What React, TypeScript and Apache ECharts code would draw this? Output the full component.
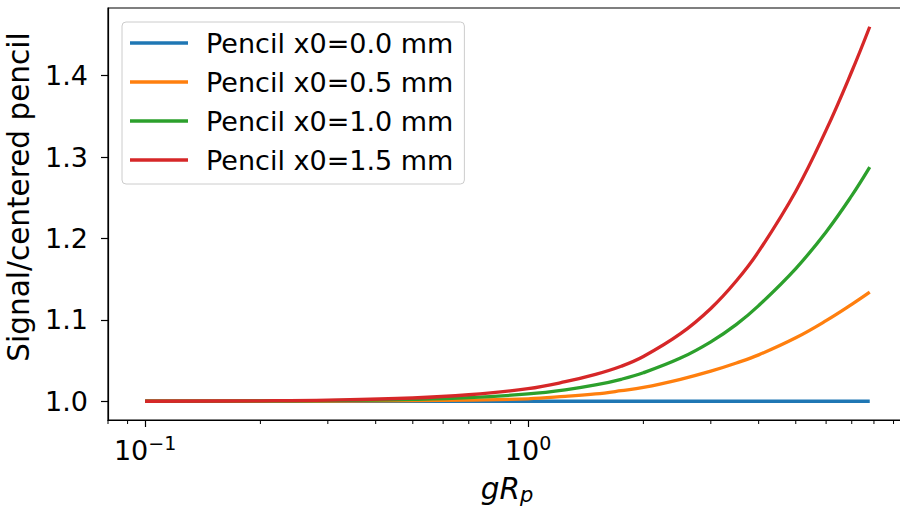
import React, { useEffect, useRef } from "react";
import * as echarts from "echarts";

// gR_p sample positions (log axis)
const xValues = [0.1, 0.2, 0.3, 0.5, 0.7, 1.0, 1.25, 1.5, 1.75, 2.0, 2.5, 3.0, 3.5, 4.0, 5.0, 6.0, 7.0, 7.8];

// Signal / centered pencil for each pencil offset
const pencil00 = [1.0, 1.0, 1.0, 1.0, 1.0, 1.0, 1.0, 1.0, 1.0, 1.0, 1.0, 1.0, 1.0, 1.0, 1.0, 1.0, 1.0, 1.0];
const pencil05 = [1.0, 1.0001, 1.0003, 1.0008, 1.0015, 1.003, 1.006, 1.009, 1.013, 1.017, 1.027, 1.037, 1.047, 1.057, 1.078, 1.099, 1.119, 1.134];
const pencil10 = [1.0, 1.0004, 1.0008, 1.0023, 1.0044, 1.009, 1.014, 1.02, 1.027, 1.035, 1.053, 1.073, 1.0945, 1.1175, 1.163, 1.208, 1.2525, 1.2875];
const pencil15 = [1.0, 1.0006, 1.0014, 1.004, 1.008, 1.0155, 1.024, 1.033, 1.043, 1.055, 1.083, 1.114, 1.148, 1.184, 1.258, 1.333, 1.405, 1.46];

const seriesNames = ["Pencil x0=0.0 mm", "Pencil x0=0.5 mm", "Pencil x0=1.0 mm", "Pencil x0=1.5 mm"];
const seriesColors = ["#1f77b4", "#ff7f0e", "#2ca02c", "#d62728"];

const yTicks = [1.0, 1.1, 1.2, 1.3, 1.4];
const xMinorTicks = [0.08, 0.09, 0.2, 0.3, 0.4, 0.5, 0.6, 0.7, 0.8, 0.9, 2, 3, 4, 5, 6, 7, 8, 9];

const X_MIN = 0.08;
const X_MAX = 9.7;
const Y_MIN = 0.977;
const Y_MAX = 1.483;

const FONT = "DejaVu Sans";
const FS = 27;
const FS_NAME = 29.5;

export default function App() {
  const ref = useRef<HTMLDivElement>(null);

  useEffect(() => {
    const chart = echarts.init(ref.current!, null, { renderer: "svg" });
    const allData = [pencil00, pencil05, pencil10, pencil15];

    chart.setOption({
      animation: false,
      grid: {
        left: 108,
        right: 0,
        top: 8,
        bottom: 88,
        outerBoundsMode: "none",
        containLabel: false,
        show: true,
        borderColor: "#000",
        borderWidth: 1.2,
        backgroundColor: "transparent",
      },
      legend: {
        show: true,
        orient: "vertical",
        left: 122,
        top: 22,
        padding: [7, 11, 10, 8],
        icon: "rect",
        itemWidth: 58,
        itemHeight: 3.3,
        itemGap: 11,
        borderColor: "#cccccc",
        borderWidth: 1,
        borderRadius: 4,
        backgroundColor: "rgba(255,255,255,0.8)",
        textStyle: {
          fontFamily: FONT,
          fontSize: FS,
          color: "#000",
          lineHeight: 28,
          padding: [0, 0, 0, 13],
        },
        data: seriesNames,
      },
      xAxis: {
        type: "log",
        logBase: 10,
        min: X_MIN,
        max: X_MAX,
        axisLine: { show: true, onZero: false, lineStyle: { color: "#000", width: 1.2 } },
        axisTick: { show: true, length: 7, lineStyle: { color: "#000", width: 1.2 } },
        splitLine: { show: false },
        axisLabel: {
          showMinLabel: false,
          showMaxLabel: false,
          margin: 13,
          color: "#000",
          formatter: (v: number) => {
            const p = Math.round(Math.log10(v));
            return "{b|10}{s|" + (p < 0 ? "\u2212" + Math.abs(p) : String(p)) + "}";
          },
          rich: {
            b: { fontFamily: FONT, fontSize: FS, color: "#000", lineHeight: 34 },
            s: { fontFamily: FONT, fontSize: 19, color: "#000", verticalAlign: "top", lineHeight: 22 },
          },
        },
        name: "{i|gR}{s|p}",
        nameLocation: "middle",
        nameGap: 53,
        nameTextStyle: {
          rich: {
            i: { fontFamily: FONT, fontStyle: "italic", fontSize: FS_NAME, color: "#000", lineHeight: 32 },
            s: { fontFamily: FONT, fontStyle: "italic", fontSize: 21, color: "#000", verticalAlign: "bottom", lineHeight: 24 },
          },
        },
      },
      yAxis: {
        type: "value",
        min: Y_MIN,
        max: Y_MAX,
        axisLine: { show: true, lineStyle: { color: "#000", width: 1.2 } },
        axisTick: { show: true, length: 7, customValues: yTicks, lineStyle: { color: "#000", width: 1.2 } },
        splitLine: { show: false },
        axisLabel: {
          customValues: yTicks,
          margin: 20,
          fontFamily: FONT,
          fontSize: FS,
          color: "#000",
          formatter: (v: number) => v.toFixed(1),
        },
        name: "Signal/centered pencil",
        nameLocation: "middle",
        nameGap: 72,
        nameTextStyle: { fontFamily: FONT, fontSize: FS_NAME, color: "#000", padding: [0, 0, 0, 34] },
      },
      series: allData.map((d, i) => ({
        name: seriesNames[i],
        type: "line",
        data: xValues.map((x, j) => [x, d[j]]),
        symbol: "none",
        showSymbol: false,
        smooth: 0.4,
        color: seriesColors[i],
        lineStyle: { color: seriesColors[i], width: 3.3 },
      })),
    });

    const yPix = chart.convertToPixel({ yAxisIndex: 0 }, Y_MIN) as number;
    const minorGraphics = xMinorTicks.map((v) => {
      const x = chart.convertToPixel({ xAxisIndex: 0 }, v) as number;
      return {
        type: "line",
        shape: { x1: x, y1: yPix, x2: x, y2: yPix + 4 },
        style: { stroke: "#000", lineWidth: 1 },
        silent: true,
      };
    });
    chart.setOption({ graphic: minorGraphics });

    return () => chart.dispose();
  }, []);

  return (
    <div
      ref={ref}
      style={{ position: "fixed", left: 0, top: 0, width: 906, height: 508, background: "#fff" }}
    />
  );
}
